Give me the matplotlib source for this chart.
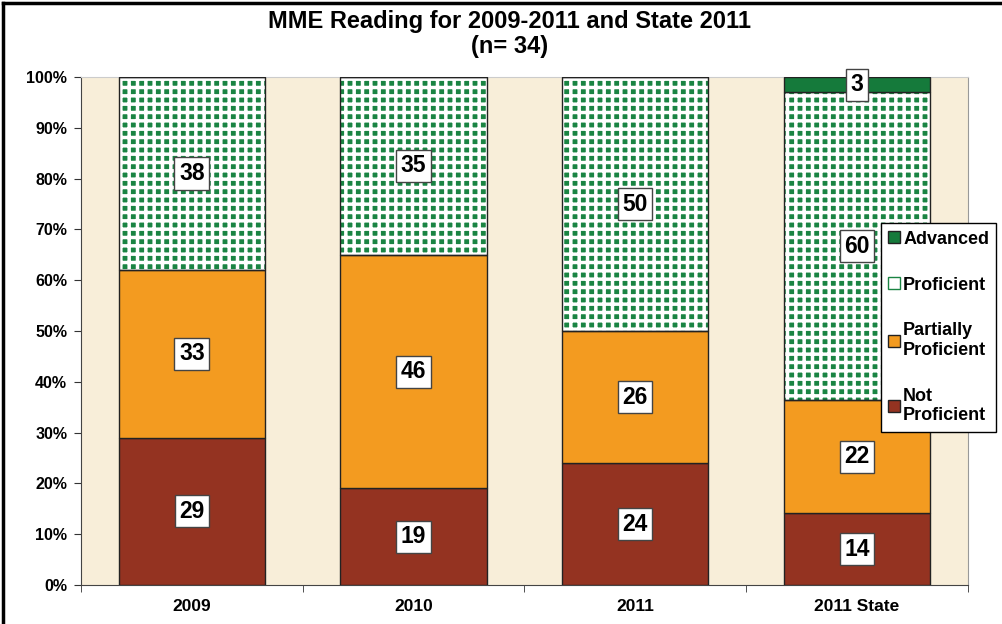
import numpy as np
import matplotlib
matplotlib.use("Agg")
import matplotlib.pyplot as plt
from matplotlib.patches import Patch
from matplotlib.lines import Line2D

plt.rcParams['font.family'] = ['Liberation Sans', 'DejaVu Sans']
plt.rcParams['hatch.linewidth'] = 2.5

# data
years = ['2009', '2010', '2011', '2011 State']
not_prof = [29, 19, 24, 14]
partial = [33, 46, 26, 22]
proficient = [38, 35, 50, 60]
advanced = [0, 0, 0, 3]

c_not = '#943321'
c_part = '#F39B20'
c_prof = '#1A8443'
c_adv = '#157A3B'

fig = plt.figure(figsize=(10.03, 6.24), dpi=100)
ax = fig.add_axes([0.0808, 0.0625, 0.884, 0.8141])
ax.set_facecolor('#F8EED9')

x = np.arange(len(years))
tot = np.array(not_prof) + np.array(partial) + np.array(proficient) + np.array(advanced)
layers = [(not_prof, c_not, None),
          (partial, c_part, None),
          (proficient, c_prof, '++'),
          (advanced, c_adv, None)]

bottom = np.zeros(len(years))
for vals, col, hatch in layers:
    pct = np.array(vals) / tot * 100
    if hatch:
        # green blocks separated by white grid lines
        ax.bar(x, pct, 0.66, bottom=bottom, color=col, edgecolor='white',
               hatch=hatch, linewidth=0, zorder=2)
        ax.bar(x, pct, 0.66, bottom=bottom, color='none', edgecolor='#222222',
               linewidth=1.0, zorder=3)
    else:
        ax.bar(x, pct, 0.66, bottom=bottom, color=col, edgecolor='#222222',
               linewidth=1.0, zorder=3)
    for i, v in enumerate(vals):
        if v > 0:
            ax.text(x[i], bottom[i] + pct[i] / 2, str(v), ha='center', va='center',
                    fontsize=16.5, fontweight='bold', color='black', zorder=5,
                    bbox=dict(boxstyle='square,pad=0.2', fc='white', ec='#444444', lw=1))
    bottom = bottom + pct

ax.set_xlim(-0.5, 3.5)
ax.set_ylim(0, 100)
ax.set_yticks(np.arange(0, 101, 10))
ax.set_yticklabels([f'{v}%' for v in range(0, 101, 10)], fontsize=11.5, fontweight='bold')
ax.set_xticks(x)
ax.set_xticklabels(years, fontsize=12.5, fontweight='bold')
ax.set_xticks(np.arange(-0.5, 3.6, 1), minor=True)
ax.tick_params(axis='x', which='major', length=0, pad=10)
ax.tick_params(axis='x', which='minor', length=5, direction='out', color='#333333')
ax.tick_params(axis='y', length=5, direction='out', color='#333333', pad=5)
ax.spines['top'].set_color('#cccccc')
ax.spines['right'].set_color('#999999')
ax.spines['left'].set_color('#444444')
ax.spines['bottom'].set_color('#444444')

fig.text(0.508, 0.965, 'MME Reading for 2009-2011 and State 2011', ha='center', va='center',
         fontsize=17, fontweight='bold')
fig.text(0.508, 0.926, '(n= 34)', ha='center', va='center', fontsize=17, fontweight='bold')

handles = [Patch(facecolor=c_adv, edgecolor='#222222'),
           Patch(facecolor='white', edgecolor=c_prof),
           Patch(facecolor=c_part, edgecolor='#222222'),
           Patch(facecolor=c_not, edgecolor='#222222')]
labels = ['Advanced', 'Proficient', 'Partially\nProficient', 'Not\nProficient']
leg = fig.legend(handles, labels, loc='upper left', bbox_to_anchor=(0.878, 0.642),
                 frameon=True, fancybox=False, edgecolor='black', framealpha=1,
                 prop={'weight': 'bold', 'size': 13}, handlelength=0.65, handleheight=0.65,
                 handletextpad=0.2, labelspacing=1.6, borderpad=0.4, borderaxespad=0)
leg.get_frame().set_linewidth(1.0)

# outer frame (left and top)
fig.add_artist(Line2D([0.003, 0.003], [0, 0.995], color='black', lw=2.5, transform=fig.transFigure))
fig.add_artist(Line2D([0.003, 1.0], [0.995, 0.995], color='black', lw=2.5, transform=fig.transFigure))

fig.savefig('out.png', dpi=100)
